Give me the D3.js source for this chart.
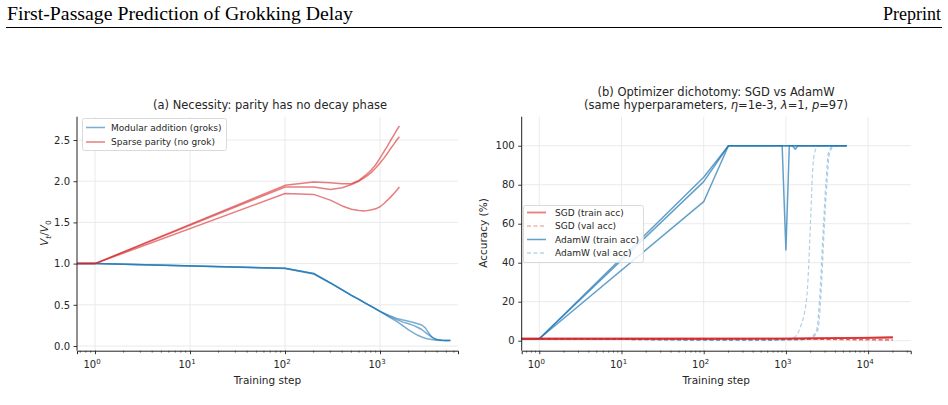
<!DOCTYPE html>
<html><head><meta charset="utf-8">
<script src="https://cdn.jsdelivr.net/npm/d3@7/dist/d3.min.js"></script>
<style>
html,body{margin:0;padding:0;background:#fff;}
svg{display:block;}
text{font-family:"DejaVu Sans",sans-serif;fill:#262626;}
</style></head>
<body>
<svg id="c" width="948" height="405"></svg>
<script>
// ---------- DATA ----------
// Panel (a)
const parityLabel = "Sparse parity (no grok)";
const modLabel = "Modular addition (groks)";
const paritySteps = [0.5, 1, 100, 200, 300, 400, 500, 600, 700, 800, 900, 1000, 1100, 1200, 1300, 1400, 1500, 1600];
const parityA = [1.0, 1.0, 1.95, 1.99, 1.98, 1.97, 1.97, 2.01, 2.07, 2.13, 2.20, 2.28, 2.36, 2.43, 2.50, 2.56, 2.62, 2.67];
const parityB = [1.0, 1.0, 1.93, 1.93, 1.90, 1.92, 1.96, 2.00, 2.05, 2.10, 2.16, 2.22, 2.28, 2.34, 2.40, 2.45, 2.50, 2.54];
const parityC = [1.0, 1.0, 1.85, 1.84, 1.77, 1.70, 1.66, 1.645, 1.64, 1.65, 1.665, 1.69, 1.73, 1.77, 1.81, 1.85, 1.89, 1.93];
const modSteps = [0.5, 1, 100, 200, 300, 400, 500, 600, 700, 800, 900, 1000, 1250, 1500, 1750, 2000, 2250, 2500, 2750, 3000, 3250, 3500, 3750, 4000, 4500, 5000, 5500];
const modA = [1.0, 1.0, 0.945, 0.88, 0.765, 0.68, 0.615, 0.565, 0.52, 0.485, 0.45, 0.42, 0.37, 0.335, 0.315, 0.30, 0.285, 0.27, 0.255, 0.22, 0.16, 0.11, 0.085, 0.075, 0.07, 0.068, 0.068];
const modB = [1.0, 1.0, 0.945, 0.88, 0.765, 0.68, 0.615, 0.565, 0.52, 0.485, 0.45, 0.42, 0.36, 0.32, 0.29, 0.27, 0.25, 0.225, 0.20, 0.165, 0.135, 0.11, 0.09, 0.08, 0.07, 0.068, 0.068];
const modC = [1.0, 1.0, 0.94, 0.875, 0.765, 0.68, 0.615, 0.565, 0.52, 0.485, 0.45, 0.42, 0.35, 0.30, 0.245, 0.195, 0.16, 0.13, 0.11, 0.095, 0.085, 0.078, 0.072, 0.07, 0.068, 0.068, 0.068];
const aYTicks = [0.0, 0.5, 1.0, 1.5, 2.0, 2.5];
const aXTicks = [1, 10, 100, 1000];

// Panel (b)
const sgdSteps = [0.5, 1, 100, 1000, 2000, 5000, 10000, 20000];
const sgdTrain1 = [1.0, 1.0, 1.0, 1.1, 1.2, 1.35, 1.5, 1.7];
const sgdTrain2 = [1.0, 1.0, 1.0, 1.05, 1.15, 1.3, 1.45, 1.6];
const sgdTrain3 = [1.0, 1.0, 1.0, 1.1, 1.2, 1.4, 1.55, 1.8];
const sgdVal1 = [1.0, 1.0, 1.0, 0.9, 0.8, 0.6, 0.5, 0.4];
const sgdVal2 = [1.0, 1.0, 0.9, 0.8, 0.7, 0.55, 0.45, 0.35];
const sgdVal3 = [1.0, 1.0, 1.0, 0.9, 0.8, 0.65, 0.55, 0.45];
const adamTrainSteps1 = [0.5, 1, 100, 200, 1000, 3000, 5500];
const adamTrain1 = [1.0, 1.0, 83.8, 100, 100, 100, 100];
const adamTrainSteps2 = [0.5, 1, 100, 200, 900, 1000, 1100, 5500];
const adamTrain2 = [1.0, 1.0, 81.6, 100, 100, 46.5, 100, 100];
const adamTrainSteps3 = [0.5, 1, 100, 200, 1200, 1300, 1400, 5500];
const adamTrain3 = [1.0, 1.0, 71.3, 100, 100, 98.2, 100, 100];
const adamValSteps1 = [0.5, 1, 100, 500, 1000, 1200, 1500, 1800, 1900, 2000, 2100, 2250, 2500, 5500];
const adamVal1 = [1.0, 1.0, 0.3, 0.3, 0.5, 1.0, 7, 23, 40, 63, 85, 97, 100, 100];
const adamValSteps2 = [0.5, 1, 100, 500, 1000, 1500, 1970, 2360, 2580, 2840, 3080, 3270, 3750, 5500];
const adamVal2 = [1.0, 1.0, 0.3, 0.3, 0.4, 0.5, 1.4, 5.5, 22.6, 56.8, 82, 96, 100, 100];
const adamValSteps3 = [0.5, 1, 100, 500, 1000, 1500, 2050, 2450, 2660, 2920, 3170, 3380, 3900, 5500];
const adamVal3 = [1.0, 1.0, 0.3, 0.3, 0.4, 0.5, 1.4, 5.5, 22.6, 56.8, 82, 96, 100, 100];
const bYTicks = [0, 20, 40, 60, 80, 100];
const bXTicks = [1, 10, 100, 1000, 10000];
const bLegend = ["SGD (train acc)", "SGD (val acc)", "AdamW (train acc)", "AdamW (val acc)"];

// ---------- STYLE ----------
const RED = "#d62728", BLUE = "#1f77b4";
const svg = d3.select("#c");

// Header
svg.append("text").attr("x", 7).attr("y", 19.5)
  .attr("textLength", 346).attr("lengthAdjust", "spacingAndGlyphs")
  .style("font-family", "'Liberation Serif','Times New Roman',serif").style("font-size", "18px").style("fill", "#000")
  .text("First-Passage Prediction of Grokking Delay");
svg.append("text").attr("x", 941).attr("y", 19.5).attr("text-anchor", "end")
  .style("font-family", "'Liberation Serif','Times New Roman',serif").style("font-size", "18px").style("fill", "#000")
  .text("Preprint");
svg.append("line").attr("x1", 6).attr("x2", 942).attr("y1", 27.5).attr("y2", 27.5).attr("stroke", "#000").attr("stroke-width", 1);

function makePanel(o) {
  const x = d3.scaleLog().domain(o.xDomain).range([o.left, o.right]);
  const y = d3.scaleLinear().domain(o.yDomain).range([o.bottom, o.top]);
  const g = svg.append("g");
  g.selectAll(".gx").data(o.xTicks).enter().append("line")
    .attr("x1", d => x(d)).attr("x2", d => x(d)).attr("y1", o.top).attr("y2", o.bottom)
    .attr("stroke", "#e8e8e8").attr("stroke-width", 0.9);
  g.selectAll(".gy").data(o.yTicks).enter().append("line")
    .attr("x1", o.left).attr("x2", o.right).attr("y1", d => y(d)).attr("y2", d => y(d))
    .attr("stroke", "#e8e8e8").attr("stroke-width", 0.9);
  const cid = "clip" + o.id;
  svg.append("clipPath").attr("id", cid).append("rect")
    .attr("x", o.left).attr("y", o.top).attr("width", o.right - o.left).attr("height", o.bottom - o.top);
  const plot = svg.append("g").attr("clip-path", `url(#${cid})`);
  const xAxis = d3.axisBottom(x).tickValues(o.xTicks).tickSize(3.5).tickFormat("");
  const gx = svg.append("g").attr("transform", `translate(0,${o.bottom})`).call(xAxis);
  gx.select(".domain").attr("stroke", "#222").attr("stroke-width", 1);
  gx.selectAll(".tick line").attr("stroke", "#222").attr("stroke-width", 0.9);
  const minors = [];
  const lo = Math.floor(Math.log10(o.xDomain[0])), hi = Math.ceil(Math.log10(o.xDomain[1]));
  for (let e = lo; e <= hi; e++) for (let m = 2; m <= 9; m++) {
    const v = m * Math.pow(10, e);
    if (v >= o.xDomain[0] && v <= o.xDomain[1]) minors.push(v);
  }
  svg.append("g").selectAll("line").data(minors).enter().append("line")
    .attr("x1", d => x(d)).attr("x2", d => x(d)).attr("y1", o.bottom).attr("y2", o.bottom + 2)
    .attr("stroke", "#222").attr("stroke-width", 0.6);
  o.xTicks.forEach(t => {
    const e = Math.round(Math.log10(t));
    const tx = svg.append("text").attr("x", x(t) - 3).attr("y", o.bottom + 17.5).attr("text-anchor", "middle")
      .style("font-size", "10px");
    tx.append("tspan").text("10");
    tx.append("tspan").attr("dy", -4.5).style("font-size", "7px").text(String(e));
  });
  const yAxis = d3.axisLeft(y).tickValues(o.yTicks).tickSize(3.5).tickPadding(3.5).tickFormat(o.yFmt);
  const gy = svg.append("g").attr("transform", `translate(${o.left},0)`).call(yAxis);
  gy.select(".domain").attr("stroke", "#222").attr("stroke-width", 1).attr("d", `M0,${o.bottom}V${o.top}`);
  gy.selectAll(".tick line").attr("stroke", "#222").attr("stroke-width", 0.9);
  gy.selectAll(".tick text").style("font-family", "DejaVu Sans").style("font-size", "10px").attr("fill", "#262626");
  svg.append("text").attr("x", (o.left + o.right) / 2).attr("y", o.bottom + 33).attr("text-anchor", "middle")
    .style("font-size", "10.5px").text("Training step");
  return { x, y, plot };
}

function drawLine(p, steps, vals, color, opts) {
  const line = d3.line().x((d, i) => p.x(steps[i])).y(d => p.y(d)).curve(opts.curve || d3.curveLinear);
  p.plot.append("path").attr("d", line(vals)).attr("fill", "none")
    .attr("stroke", color).attr("stroke-width", opts.w || 1.5).attr("stroke-opacity", opts.a || 1)
    .attr("stroke-dasharray", opts.dash || null).attr("stroke-linejoin", "round");
}

// ---------- Panel (a) ----------
const pa = makePanel({
  id: "a", left: 77, right: 458, top: 116.7, bottom: 350.7,
  xDomain: [Math.pow(10, -0.1895), Math.pow(10, 3.821)], yDomain: [-0.057, 2.783],
  xTicks: aXTicks, yTicks: aYTicks, yFmt: d3.format(".1f")
});
[modA, modB, modC].forEach(s => drawLine(pa, modSteps, s, BLUE, { a: 0.6, w: 1.5 }));
[parityA, parityB, parityC].forEach(s => drawLine(pa, paritySteps, s, RED, { a: 0.6, w: 1.5 }));

svg.append("text").attr("x", 270).attr("y", 108.5).attr("text-anchor", "middle").style("font-size", "11.5px")
  .text("(a) Necessity: parity has no decay phase");
const yl = svg.append("text").attr("transform", "translate(48,233) rotate(-90)").attr("text-anchor", "middle").style("font-size", "10.5px");
yl.append("tspan").style("font-style", "italic").text("V");
yl.append("tspan").attr("dy", 2.5).style("font-size", "7.5px").style("font-style", "italic").text("t");
yl.append("tspan").attr("dy", -2.5).text("/");
yl.append("tspan").style("font-style", "italic").text("V");
yl.append("tspan").attr("dy", 2.5).style("font-size", "7.5px").text("0");

(function () {
  const lg = svg.append("g");
  lg.append("rect").attr("x", 82.5).attr("y", 118.5).attr("width", 144).attr("height", 32).attr("rx", 2)
    .attr("fill", "#fff").attr("fill-opacity", 0.85).attr("stroke", "#d0d0d0").attr("stroke-width", 0.8);
  [[modLabel, BLUE], [parityLabel, RED]].forEach((d, i) => {
    const yy = 127.5 + i * 14.5;
    lg.append("line").attr("x1", 86).attr("x2", 105).attr("y1", yy).attr("y2", yy)
      .attr("stroke", d[1]).attr("stroke-opacity", 0.6).attr("stroke-width", 1.5);
    lg.append("text").attr("x", 111).attr("y", yy + 3.3).style("font-size", "9px").text(d[0]);
  });
})();

// ---------- Panel (b) ----------
const pb = makePanel({
  id: "b", left: 521.7, right: 910.7, top: 116.7, bottom: 350.7,
  xDomain: [Math.pow(10, -0.214), Math.pow(10, 4.518)], yDomain: [-5.13, 114.9],
  xTicks: bXTicks, yTicks: bYTicks, yFmt: d3.format("d")
});
[sgdVal1, sgdVal2, sgdVal3].forEach(s => drawLine(pb, sgdSteps, s, RED, { a: 0.35, w: 1.3, dash: "4,2.5" }));
[[adamValSteps1, adamVal1], [adamValSteps2, adamVal2], [adamValSteps3, adamVal3]].forEach(d =>
  drawLine(pb, d[0], d[1], BLUE, { a: 0.35, w: 1.2, dash: "4,2.5", curve: d3.curveMonotoneX }));
[[adamTrainSteps1, adamTrain1], [adamTrainSteps2, adamTrain2], [adamTrainSteps3, adamTrain3]].forEach(d =>
  drawLine(pb, d[0], d[1], BLUE, { a: 0.7, w: 1.5 }));
[sgdTrain1, sgdTrain2, sgdTrain3].forEach(s => drawLine(pb, sgdSteps, s, RED, { a: 0.6, w: 1.8 }));

svg.append("text").attr("x", 716).attr("y", 95.5).attr("text-anchor", "middle").style("font-size", "11.5px")
  .text("(b) Optimizer dichotomy: SGD vs AdamW");
(function () {
  const t = svg.append("text").attr("x", 716).attr("y", 109).attr("text-anchor", "middle").style("font-size", "11.5px");
  t.append("tspan").text("(same hyperparameters, ");
  t.append("tspan").style("font-style", "italic").text("η");
  t.append("tspan").text("=1e-3, ");
  t.append("tspan").style("font-style", "italic").text("λ");
  t.append("tspan").text("=1, ");
  t.append("tspan").style("font-style", "italic").text("p");
  t.append("tspan").text("=97)");
})();
svg.append("text").attr("transform", "translate(487,233) rotate(-90)").attr("text-anchor", "middle")
  .style("font-size", "10.5px").text("Accuracy (%)");

(function () {
  const lg = svg.append("g");
  lg.append("rect").attr("x", 523.5).attr("y", 205.5).attr("width", 120).attr("height", 57).attr("rx", 2)
    .attr("fill", "#fff").attr("fill-opacity", 0.85).attr("stroke", "#d0d0d0").attr("stroke-width", 0.8);
  const sty = [
    { c: RED, a: 0.6, w: 1.8, dash: null },
    { c: RED, a: 0.35, w: 1.3, dash: "4,2.5" },
    { c: BLUE, a: 0.7, w: 1.5, dash: null },
    { c: BLUE, a: 0.3, w: 1.3, dash: "4,2.5" }
  ];
  bLegend.forEach((lab, i) => {
    const yy = 212.5 + i * 13.5;
    const s = sty[i];
    lg.append("line").attr("x1", 527).attr("x2", 546).attr("y1", yy).attr("y2", yy)
      .attr("stroke", s.c).attr("stroke-opacity", s.a).attr("stroke-width", s.w).attr("stroke-dasharray", s.dash);
    lg.append("text").attr("x", 555).attr("y", yy + 3.3).style("font-size", "9px").text(lab);
  });
})();
</script>
</body></html>
